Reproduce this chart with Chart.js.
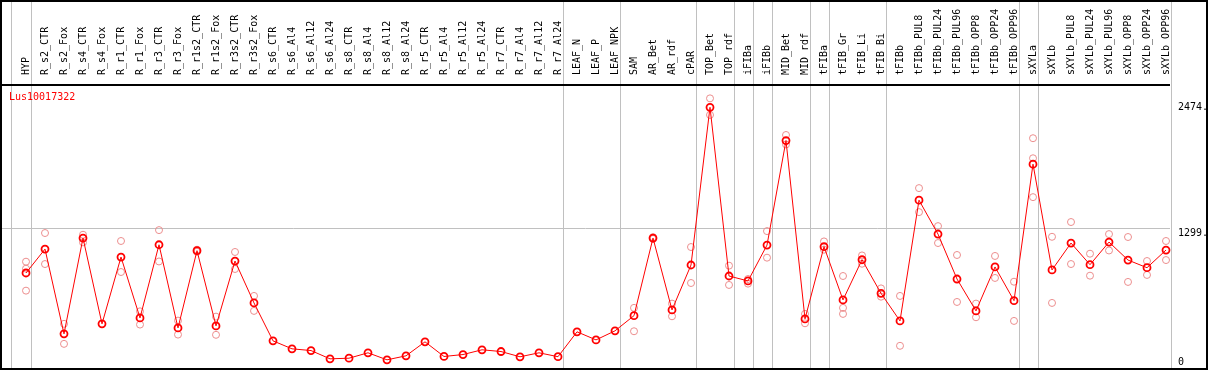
<!DOCTYPE html>
<html>
<head>
<meta charset="utf-8">
<script src="https://cdn.jsdelivr.net/npm/chart.js@4.4.1/dist/chart.umd.min.js"></script>
<style>
  html, body { margin: 0; padding: 0; background: #fff; }
  #wrap { width: 1209px; height: 370px; }
</style>
</head>
<body>
<div id="wrap"><canvas id="chart" width="1209" height="370"></canvas></div>
<script>
const geneName = "Lus10017322";

const samples = [
  "HYP",
  "R_s2_CTR", "R_s2_Fox", "R_s4_CTR", "R_s4_Fox", "R_r1_CTR", "R_r1_Fox",
  "R_r3_CTR", "R_r3_Fox", "R_r1s2_CTR", "R_r1s2_Fox", "R_r3s2_CTR", "R_r3s2_Fox",
  "R_s6_CTR", "R_s6_Al4", "R_s6_Al12", "R_s6_Al24", "R_s8_CTR", "R_s8_Al4", "R_s8_Al12", "R_s8_Al24",
  "R_r5_CTR", "R_r5_Al4", "R_r5_Al12", "R_r5_Al24", "R_r7_CTR", "R_r7_Al4", "R_r7_Al12", "R_r7_Al24",
  "LEAF_N", "LEAF_P", "LEAF_NPK",
  "SAM", "AR_Bet", "AR_rdf", "cPAR",
  "TOP_Bet", "TOP_rdf",
  "iFIBa", "iFIBb",
  "MID_Bet", "MID_rdf",
  "tFIBa",
  "tFIB_Gr", "tFIB_Li", "tFIB_Bi",
  "tFIBb", "tFIBb_PUL8", "tFIBb_PUL24", "tFIBb_PUL96", "tFIBb_OPP8", "tFIBb_OPP24", "tFIBb_OPP96",
  "sXYLa",
  "sXYLb", "sXYLb_PUL8", "sXYLb_PUL24", "sXYLb_PUL96", "sXYLb_OPP8", "sXYLb_OPP24", "sXYLb_OPP96"
];

// mean expression per sample
const meanValues = [
  882,
  1104, 317, 1206, 410, 1030, 465,
  1144, 372, 1089, 391, 993, 604,
  252, 178, 162, 85, 91, 141, 76, 113,
  243, 107, 125, 169, 153, 104, 141, 105,
  336, 261, 345,
  486, 1206, 539, 956,
  2420, 854,
  808, 1141,
  2111, 456,
  1126,
  632, 1005, 693,
  437, 1558, 1243, 826, 530, 938, 625,
  1892,
  910, 1160, 959, 1169, 1002, 931, 1095
];

// replicate values (null where hidden behind the mean)
const repHigh = [
  987,
  1253, 410, 1237, null, 1179, 526,
  1280, 440, 1098, 477, 1077, 669,
  null, null, null, null, null, null, null, null,
  null, null, null, null, null, null, null, null,
  null, null, null,
  558, 1215, 598, 1123,
  2503, 950,
  826, 1271,
  2163, 502,
  1175,
  854, 1045, 739,
  669, 1670, 1317, 1049, 598, 1040, 801,
  2133,
  1218, 1355, 1061, 1243, 1216, 993, 1179
];

const repLow = [
  718,
  965, 224, 1166, null, 891, 403,
  989, 310, 1079, 308, 919, 530,
  null, null, null, null, null, null, null, null,
  null, null, null, null, null, null, null, null,
  null, null, null,
  341, 1198, 480, 789,
  2349, 771,
  783, 1024,
  2075, 415,
  1098,
  502, 968, 662,
  206, 1447, 1160, 613, 471, 836, 437,
  1586,
  604, 965, 857, 1091, 799, 864, 1002
];

const repExtra = [
  922,
  null, null, null, null, null, null,
  null, null, null, null, null, null,
  null, null, null, null, null, null, null, null,
  null, null, null, null, null, null, null, null,
  null, null, null,
  null, null, null, null,
  null, null,
  null, null,
  null, null,
  null,
  558, null, null,
  null, null, null, null, null, null, null,
  1947,
  null, null, null, null, null, null, null
];

// index of the last sample in each group
const groupEnds = [0, 28, 31, 35, 37, 38, 39, 41, 42, 45, 52, 53, 60];

const yTicks = [0, 1299, 2474];

const meanPoints = meanValues.map((v, i) => ({ x: i, y: v }));
const repPoints = [];
[repHigh, repLow, repExtra].forEach(arr => {
  arr.forEach((v, i) => { if (v !== null) repPoints.push({ x: i, y: v }); });
});

// group separators, outer frame and gene name
const frame = {
  id: 'frame',
  beforeDatasetsDraw(chart) {
    const { ctx, chartArea, scales: { x } } = chart;
    ctx.save();
    ctx.strokeStyle = '#c0c0c0';
    ctx.lineWidth = 1;
    const cuts = [-0.8].concat(groupEnds.map(e => e + 0.25));
    cuts.forEach(v => {
      const px = Math.round(x.getPixelForValue(v)) + 0.5;
      ctx.beginPath();
      ctx.moveTo(px, 0);
      ctx.lineTo(px, chartArea.bottom);
      ctx.stroke();
    });
    ctx.restore();
  },
  afterDraw(chart) {
    const { ctx, chartArea, width, height } = chart;
    ctx.save();
    ctx.strokeStyle = '#000';
    ctx.lineWidth = 2;
    ctx.strokeRect(1, 1, width - 3, height - 2);
    ctx.beginPath();
    ctx.moveTo(0, chartArea.top);
    ctx.lineTo(chartArea.right, chartArea.top);
    ctx.stroke();
    ctx.fillStyle = '#ff0000';
    ctx.font = '10px "DejaVu Sans Mono"';
    ctx.textBaseline = 'middle';
    ctx.textAlign = 'left';
    ctx.fillText(geneName, 9, chartArea.top + 12);
    ctx.restore();
  }
};

new Chart(document.getElementById('chart'), {
  type: 'line',
  data: {
    datasets: [
      {
        data: meanPoints,
        borderColor: '#ff0000',
        borderWidth: 1,
        pointRadius: 3.5,
        pointBorderWidth: 1.8,
        pointBorderColor: '#ff0000',
        pointBackgroundColor: 'rgba(0,0,0,0)',
        tension: 0,
        clip: false,
        order: 0
      },
      {
        type: 'scatter',
        data: repPoints,
        showLine: false,
        pointRadius: 3.5,
        pointBorderWidth: 1,
        pointBorderColor: '#ec8e8e',
        pointBackgroundColor: 'rgba(0,0,0,0)',
        clip: false,
        order: 1
      }
    ]
  },
  options: {
    responsive: false,
    animation: false,
    devicePixelRatio: 1,
    layout: { autoPadding: false, padding: { top: 1, left: 1, right: 1, bottom: 2 } },
    plugins: { legend: { display: false }, tooltip: { enabled: false } },
    scales: {
      x: {
        type: 'linear',
        position: 'top',
        min: -1.3158,
        max: 60.21,
        grid: { display: false },
        border: { display: false },
        afterBuildTicks: s => { s.ticks = samples.map((_, i) => ({ value: i })); },
        afterFit: s => { s.height = 84; s.paddingLeft = 0; s.paddingRight = 0; },
        ticks: {
          autoSkip: false,
          minRotation: 90,
          maxRotation: 90,
          padding: 2,
          labelOffset: 12,
          color: '#000',
          font: { family: 'DejaVu Sans Mono', size: 10 },
          callback: v => samples[v]
        }
      },
      y: {
        type: 'linear',
        position: 'right',
        min: 0,
        max: 2627,
        afterBuildTicks: s => { s.ticks = yTicks.map(v => ({ value: v })); },
        afterFit: s => { s.width = 38; s.paddingTop = 0; s.paddingBottom = 0; },
        border: { display: false },
        grid: {
          drawTicks: false,
          color: c => (c.tick && c.tick.value === 1299) ? '#c0c0c0' : 'rgba(0,0,0,0)'
        },
        ticks: {
          padding: 8,
          color: '#000',
          font: { family: 'DejaVu Sans Mono', size: 10, lineHeight: '11px' },
          callback: v => v === 0 ? ['0', ''] : ['', v + '.']
        }
      }
    }
  },
  plugins: [frame]
});
</script>
</body>
</html>
